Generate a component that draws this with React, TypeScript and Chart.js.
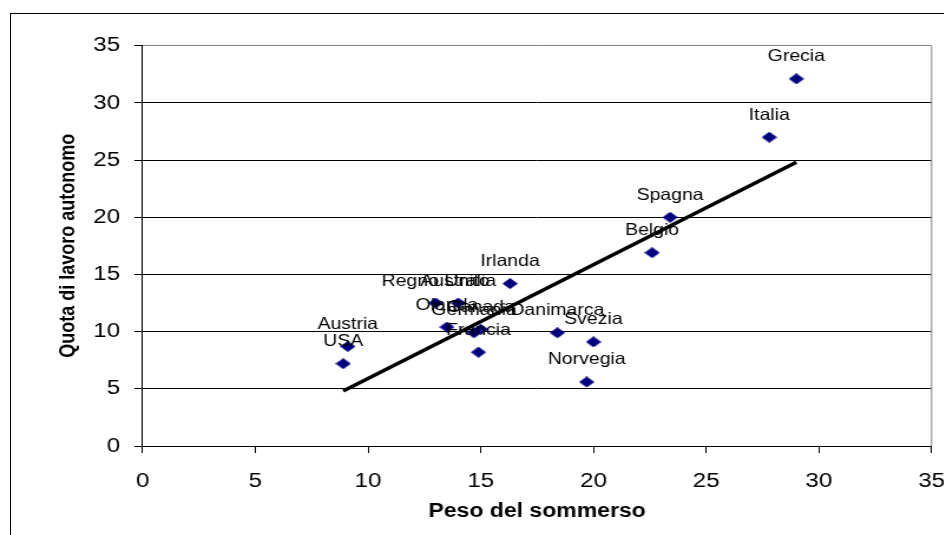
import { useEffect, useRef } from 'react';
import { Chart, registerables } from 'chart.js';

Chart.register(...registerables);

const countries = ['Grecia', 'Italia', 'Spagna', 'Belgio', 'Irlanda', 'Regno Unito', 'Australia', 'Olanda', 'Canada', 'Germania', 'Francia', 'Danimarca', 'Svezia', 'Norvegia', 'Austria', 'USA'];
const sommerso = [29.0, 27.8, 23.4, 22.6, 16.3, 13.0, 14.0, 13.5, 15.0, 14.7, 14.9, 18.4, 20.0, 19.7, 9.1, 8.9];
const autonomo = [32.1, 27.0, 20.0, 16.9, 14.2, 12.5, 12.5, 10.4, 10.2, 9.9, 8.2, 9.9, 9.1, 5.6, 8.7, 7.2];
const trendX = [8.9, 29.0];
const trendY = [4.8, 24.8];
const axisMin = 0;
const axisMax = 35;
const axisStep = 5;

const FONT = '"Liberation Sans", Arial, Helvetica, sans-serif';
const STRETCH = 1.18;
const W = 830;
const H = 535;

export default function App() {
  const ref = useRef<HTMLCanvasElement>(null);

  useEffect(() => {
    const canvas = ref.current;
    if (!canvas) return;

    const diamond = document.createElement('canvas');
    diamond.width = 13;
    diamond.height = 11;
    const dctx = diamond.getContext('2d')!;
    dctx.fillStyle = '#000080';
    dctx.beginPath();
    dctx.moveTo(6.5, 0);
    dctx.lineTo(13, 5.5);
    dctx.lineTo(6.5, 11);
    dctx.lineTo(0, 5.5);
    dctx.closePath();
    dctx.fill();

    const labelPlugin = {
      id: 'pointLabels',
      afterDatasetsDraw(chart: any) {
        const ctx = chart.ctx;
        const meta = chart.getDatasetMeta(1);
        ctx.save();
        ctx.font = `16.5px ${FONT}`;
        ctx.fillStyle = '#000';
        ctx.textAlign = 'center';
        ctx.textBaseline = 'alphabetic';
        meta.data.forEach((el: any, i: number) => {
          ctx.fillText(countries[i], el.x, el.y - 17.5);
        });
        ctx.restore();
      },
    };

    const borderPlugin = {
      id: 'plotBorder',
      beforeDatasetsDraw(chart: any) {
        const { ctx, chartArea } = chart;
        ctx.save();
        ctx.strokeStyle = '#808080';
        ctx.lineWidth = 1;
        ctx.beginPath();
        ctx.moveTo(chartArea.right, chartArea.top);
        ctx.lineTo(chartArea.right, chartArea.bottom);
        ctx.stroke();
        ctx.restore();
      },
    };

    const chart = new Chart(canvas, {
      type: 'scatter',
      data: {
        datasets: [
          {
            label: 'Tendenza lineare',
            data: trendX.map((x, i) => ({ x, y: trendY[i] })),
            showLine: true,
            borderColor: '#000',
            borderWidth: 3.5,
            pointRadius: 0,
            fill: false,
            order: 0,
          },
          {
            label: 'Paesi',
            data: sommerso.map((x, i) => ({ x, y: autonomo[i] })),
            pointStyle: diamond as any,
            pointRadius: 6,
            backgroundColor: '#000080',
            borderColor: '#000080',
            order: 1,
          },
        ],
      },
      options: {
        animation: false,
        responsive: false,
        devicePixelRatio: 1,
        events: [],
        layout: { padding: { top: 45.7, right: W - 789.8, left: 0, bottom: 0 } },
        plugins: {
          legend: { display: false },
          tooltip: { enabled: false },
        },
        scales: {
          x: {
            type: 'linear',
            min: axisMin,
            max: axisMax,
            ticks: {
              stepSize: axisStep,
              color: '#000',
              font: { family: FONT, size: 20.5 },
              padding: 16,
              maxRotation: 0,
            },
            grid: { drawOnChartArea: false, drawTicks: true, tickLength: 7, color: '#000' },
            border: { color: '#000', width: 1 },
            title: {
              display: true,
              text: 'Peso del sommerso',
              color: '#000',
              font: { family: FONT, size: 19.5, weight: 'bold' },
              padding: { top: 0, bottom: 12 },
            },
            afterFit(scale: any) {
              scale.height = H - 446;
            },
          },
          y: {
            type: 'linear',
            min: axisMin,
            max: axisMax,
            ticks: {
              stepSize: axisStep,
              color: '#000',
              font: { family: FONT, size: 20.5 },
              padding: 12,
            },
            grid: {
              color: (ctx: any) => (ctx.tick && ctx.tick.value === axisMax ? '#808080' : '#000'),
              tickColor: '#000',
              drawTicks: true,
              tickLength: 7,
            },
            border: { color: '#000', width: 1 },
            title: {
              display: true,
              text: 'Quota di lavoro autonomo',
              color: '#000',
              font: { family: FONT, size: 18, weight: 'bold' },
              padding: { top: 47, bottom: 0 },
            },
            afterFit(scale: any) {
              scale.width = 120.9;
            },
          },
        },
      },
      plugins: [borderPlugin, labelPlugin],
    });

    return () => chart.destroy();
  }, []);

  return (
    <div
      style={{
        position: 'fixed',
        left: 0,
        top: 0,
        width: 944,
        height: 535,
        overflow: 'hidden',
        background: '#fff',
      }}
    >
      <canvas
        ref={ref}
        width={W}
        height={H}
        style={{ position: 'absolute', left: 0, top: 0, width: `${W * STRETCH}px`, height: `${H}px` }}
      />
      <div
        style={{
          position: 'absolute',
          left: 10,
          top: 13,
          width: 2000,
          height: 2000,
          border: '1px solid #000',
          pointerEvents: 'none',
        }}
      />
    </div>
  );
}
